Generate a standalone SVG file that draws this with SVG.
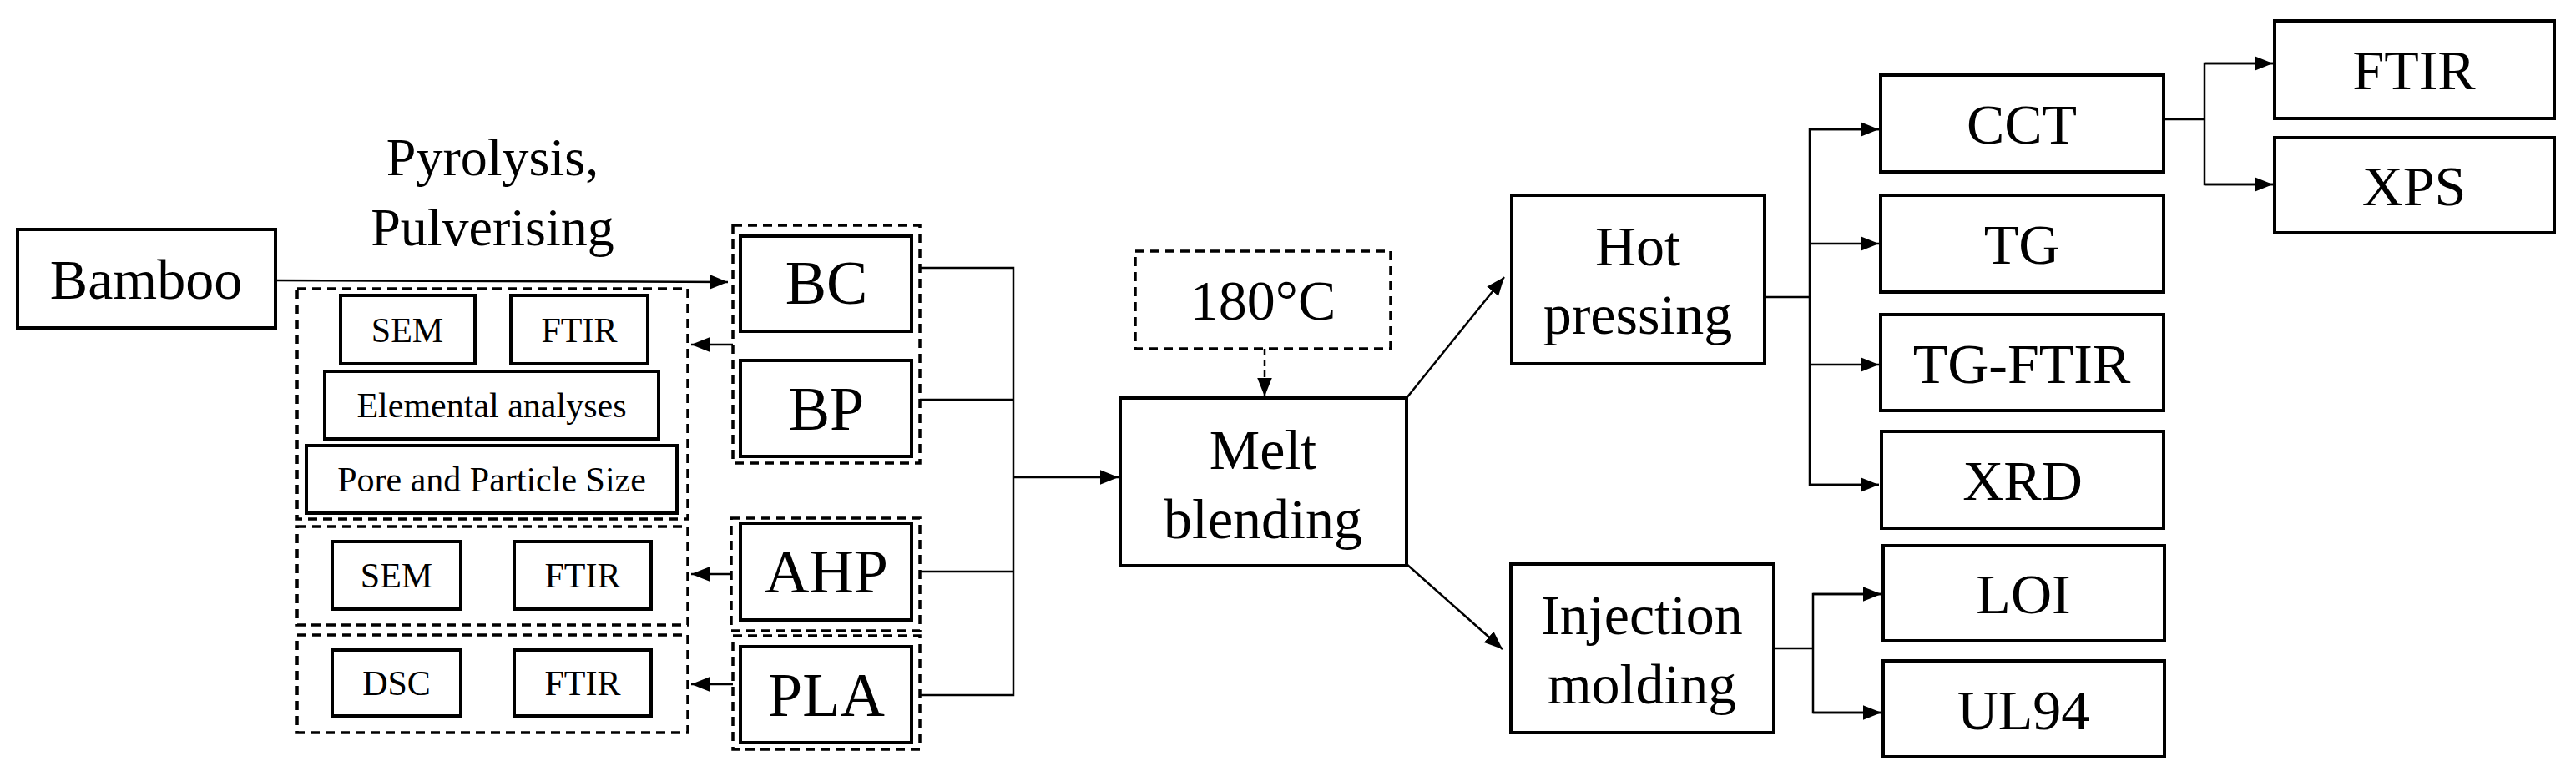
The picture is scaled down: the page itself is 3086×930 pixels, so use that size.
<svg xmlns="http://www.w3.org/2000/svg" width="3086" height="930" viewBox="0 0 3086 930">
<style>
.b{fill:#fff;stroke:#000;stroke-width:4}
.d{fill:none;stroke:#000;stroke-width:3.5;stroke-dasharray:11 7}
.t{font-family:"Liberation Serif",serif;font-size:68px;text-anchor:middle;fill:#000}
.s{font-family:"Liberation Serif",serif;font-size:42px;text-anchor:middle;fill:#000}
.c line,.c polyline{fill:none;stroke:#000;stroke-width:2.5}
</style>
<defs><marker id="a" viewBox="0 0 10 10" refX="10" refY="5" markerWidth="7" markerHeight="7" orient="auto" markerUnits="userSpaceOnUse"><path d="M0,0L10,5L0,10z" fill="#000"/></marker>
<marker id="m" viewBox="0 0 10 10" refX="10" refY="5" markerWidth="22" markerHeight="22" orient="auto" markerUnits="userSpaceOnUse"><path d="M0,1L10,5L0,9z" fill="#000"/></marker></defs>
<rect width="3086" height="930" fill="#fff"/>
<g class="c">
<line x1="330" y1="336" x2="872" y2="338" marker-end="url(#m)"/>
<text class="t" x="590" y="210" style="font-size:64px">Pyrolysis,</text>
<text class="t" x="590" y="294" style="font-size:64px">Pulverising</text>
<line x1="878" y1="413" x2="828" y2="413" marker-end="url(#m)"/>
<line x1="876" y1="688" x2="828" y2="688" marker-end="url(#m)"/>
<line x1="878" y1="820" x2="828" y2="820" marker-end="url(#m)"/>
<polyline points="1102,321 1214,321 1214,833 1102,833"/>
<line x1="1102" y1="479" x2="1214" y2="479"/>
<line x1="1102" y1="685" x2="1214" y2="685"/>
<line x1="1214" y1="572" x2="1340" y2="572" marker-end="url(#m)"/>
<line x1="1515" y1="418" x2="1515" y2="475" stroke-dasharray="8 5" marker-end="url(#m)"/>
<line x1="1685" y1="477" x2="1802" y2="332" marker-end="url(#m)"/>
<line x1="1685" y1="676" x2="1800" y2="778" marker-end="url(#m)"/>
<line x1="2114" y1="356" x2="2168" y2="356"/>
<polyline points="2251,155 2168,155 2168,581 2251,581"/>
<line x1="2168" y1="155" x2="2251" y2="155" marker-end="url(#m)"/>
<line x1="2168" y1="581" x2="2251" y2="581" marker-end="url(#m)"/>
<line x1="2168" y1="292" x2="2251" y2="292" marker-end="url(#m)"/>
<line x1="2168" y1="437" x2="2251" y2="437" marker-end="url(#m)"/>
<line x1="2125" y1="777" x2="2172" y2="777"/>
<polyline points="2254,712 2172,712 2172,854 2254,854"/>
<line x1="2172" y1="712" x2="2254" y2="712" marker-end="url(#m)"/>
<line x1="2172" y1="854" x2="2254" y2="854" marker-end="url(#m)"/>
<line x1="2592" y1="143" x2="2641" y2="143"/>
<polyline points="2723,76 2641,76 2641,221 2723,221"/>
<line x1="2641" y1="76" x2="2723" y2="76" marker-end="url(#m)"/>
<line x1="2641" y1="221" x2="2723" y2="221" marker-end="url(#m)"/>
</g>
<g id="bamboo"><rect class="b" x="21" y="275" width="309" height="118"/><text class="t" x="175" y="358">Bamboo</text></g>
<g id="grp-bcbp"><rect class="d" x="878" y="270" width="224" height="285"/></g>
<g id="bc"><rect class="b" x="887" y="283" width="205" height="114"/><text class="t" x="990" y="364" style="font-size:74px">BC</text></g>
<g id="bp"><rect class="b" x="887" y="432" width="205" height="115"/><text class="t" x="990" y="515" style="font-size:74px">BP</text></g>
<g id="grp-ahp"><rect class="d" x="876" y="621" width="226" height="135"/><rect class="b" x="887" y="627" width="205" height="116"/><text class="t" x="990" y="710" style="font-size:74px">AHP</text></g>
<g id="grp-pla"><rect class="d" x="878" y="762" width="224" height="136"/><rect class="b" x="887" y="775" width="205" height="115"/><text class="t" x="990" y="858" style="font-size:74px">PLA</text></g>
<g id="grp1"><rect class="d" x="356" y="346" width="468" height="276"/>
<rect class="b" x="408" y="354" width="161" height="82"/><text class="s" x="488" y="410">SEM</text>
<rect class="b" x="612" y="354" width="164" height="82"/><text class="s" x="694" y="410">FTIR</text>
<rect class="b" x="389" y="445" width="400" height="81"/><text class="s" x="589" y="500">Elemental analyses</text>
<rect class="b" x="367" y="534" width="444" height="81"/><text class="s" x="589" y="589">Pore and Particle Size</text></g>
<g id="grp2"><rect class="d" x="356" y="631" width="468" height="118"/>
<rect class="b" x="398" y="649" width="154" height="81"/><text class="s" x="475" y="704">SEM</text>
<rect class="b" x="616" y="649" width="164" height="81"/><text class="s" x="698" y="704">FTIR</text></g>
<g id="grp3"><rect class="d" x="356" y="761" width="468" height="117"/>
<rect class="b" x="398" y="779" width="154" height="79"/><text class="s" x="475" y="833">DSC</text>
<rect class="b" x="616" y="779" width="164" height="79"/><text class="s" x="698" y="833">FTIR</text></g>
<g id="temp"><rect class="d" x="1360" y="301" width="306" height="117"/><text class="t" x="1513" y="383">180°C</text></g>
<g id="melt"><rect class="b" x="1342" y="477" width="343" height="201"/><text class="t" x="1513" y="562">Melt</text><text class="t" x="1513" y="645">blending</text></g>
<g id="hot"><rect class="b" x="1811" y="234" width="303" height="202"/><text class="t" x="1962" y="318">Hot</text><text class="t" x="1962" y="400">pressing</text></g>
<g id="inj"><rect class="b" x="1810" y="676" width="315" height="202"/><text class="t" x="1967" y="760">Injection</text><text class="t" x="1967" y="843">molding</text></g>
<g id="cct"><rect class="b" x="2253" y="90" width="339" height="116"/><text class="t" x="2422" y="172">CCT</text></g>
<g id="tg"><rect class="b" x="2253" y="234" width="339" height="116"/><text class="t" x="2422" y="316">TG</text></g>
<g id="tgftir"><rect class="b" x="2253" y="377" width="339" height="115"/><text class="t" x="2422" y="459">TG-FTIR</text></g>
<g id="xrd"><rect class="b" x="2254" y="517" width="338" height="116"/><text class="t" x="2423" y="599">XRD</text></g>
<g id="loi"><rect class="b" x="2256" y="654" width="337" height="114"/><text class="t" x="2424" y="735">LOI</text></g>
<g id="ul94"><rect class="b" x="2256" y="792" width="337" height="115"/><text class="t" x="2424" y="874">UL94</text></g>
<g id="ftir"><rect class="b" x="2725" y="25" width="335" height="117"/><text class="t" x="2892" y="107">FTIR</text></g>
<g id="xps"><rect class="b" x="2725" y="165" width="335" height="114"/><text class="t" x="2892" y="246">XPS</text></g>
</svg>
